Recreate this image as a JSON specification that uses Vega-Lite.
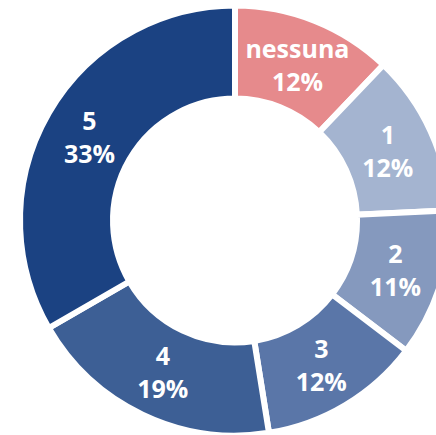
{
  "$schema": "https://vega.github.io/schema/vega-lite/v6.json",
  "autosize": "none",
  "padding": 0,
  "width": 470,
  "height": 441,
  "background": "white",
  "view": {"stroke": null},
  "data": {
    "values": [
      {"category": "nessuna", "pct": 0.12, "order": 1},
      {"category": "1", "pct": 0.12, "order": 2},
      {"category": "2", "pct": 0.11, "order": 3},
      {"category": "3", "pct": 0.12, "order": 4},
      {"category": "4", "pct": 0.19, "order": 5},
      {"category": "5", "pct": 0.33, "order": 6}
    ]
  },
  "transform": [
    {"calculate": "datum.category + '\\n' + format(datum.pct, '.0%')", "as": "label"}
  ],
  "encoding": {
    "theta": {"field": "pct", "type": "quantitative", "stack": true},
    "order": {"field": "order", "type": "quantitative"}
  },
  "layer": [
    {
      "mark": {"type": "arc", "innerRadius": 122, "outerRadius": 215, "stroke": "white", "strokeWidth": 6},
      "encoding": {
        "color": {
          "field": "category",
          "type": "nominal",
          "scale": {
            "domain": ["nessuna", "1", "2", "3", "4", "5"],
            "range": ["#E68A8C", "#A4B4D0", "#8599BE", "#5A76A8", "#3D5F95", "#1B4282"]
          },
          "legend": null
        }
      }
    },
    {
      "mark": {"type": "text", "radius": 168, "dy": -15, "baseline": "middle", "lineBreak": "\n", "lineHeight": 33, "font": "Open Sans", "fontWeight": "bold", "fontSize": 25, "fill": "white"},
      "encoding": {
        "text": {"field": "label", "type": "nominal"}
      }
    }
  ]
}
